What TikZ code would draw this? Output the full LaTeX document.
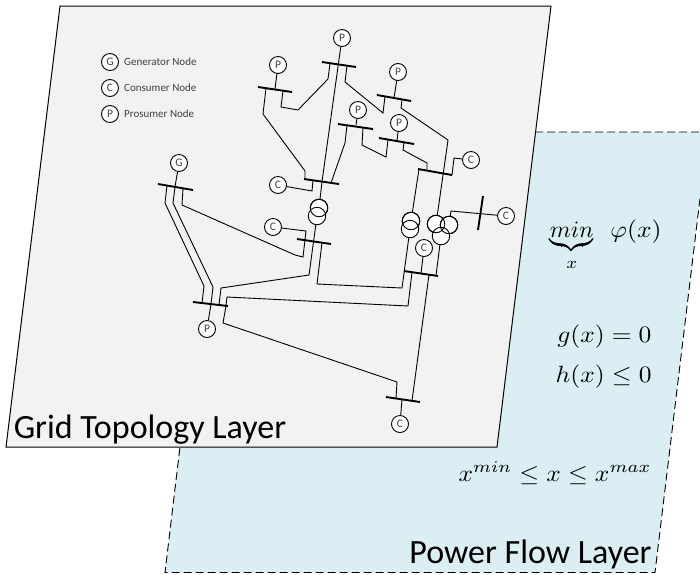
\documentclass[tikz,border=0pt]{standalone}
\usepackage{amsmath}
\usepackage{fontspec}
\setmainfont{Carlito}
\definecolor{gridfill}{HTML}{F2F2F2}
\definecolor{flowfill}{HTML}{DAEEF3}
\definecolor{labelgrey}{HTML}{404040}
\tikzset{
  layerdash/.style={draw=black,line width=0.9pt,dash pattern=on 8pt off 4pt},
  gridlayer/.style={draw=black,line width=1pt,fill=gridfill},
  busbar/.style={draw=black,line width=1.9pt},
  wire/.style={draw=black,line width=0.9pt,line join=miter},
  netnode/.style={circle,draw=black,line width=0.9pt,fill=white,minimum size=17pt,inner sep=0pt,font=\fontsize{11.5}{11.5}\selectfont,text=labelgrey},
  winding/.style={circle,draw=black,line width=0.9pt,minimum size=17.5pt,inner sep=0pt},
  legendtext/.style={anchor=base west,inner sep=0pt,font=\fontsize{11}{13}\selectfont,text=labelgrey},
  layertitle/.style={anchor=base,inner sep=0pt,font=\fontsize{34}{38}\selectfont},
  eq/.style={anchor=base east,inner sep=0pt,xscale=2.55,yscale=2.35,font=\fontsize{10}{12}\selectfont},
}
\begin{document}
\begin{tikzpicture}[x=1pt,y=-1pt]
\useasboundingbox (0,0) rectangle (700,574);
\clip (0,0) rectangle (700,574);
% layers
\path[fill=flowfill] (708,132) -- (655,572.5) -- (165,572.5) -- (215,132) -- cycle;
\path[layerdash] (535,132) -- (708,132) -- (655,572.5) -- (165,572.5) -- (180,447);
\path[gridlayer] (60,6) -- (551,6) -- (497,447) -- (6,447) -- cycle;
% legend
\node[netnode] (lg) at (110,62) {G};
\node[netnode] (lc) at (110,88) {C};
\node[netnode] (lp) at (110,114) {P};
\node[legendtext] (lgt) at (124,65.5) {Generator Node};
\node[legendtext] (lct) at (124,91.5) {Consumer Node};
\node[legendtext] (lpt) at (124,117.5) {Prosumer Node};
% network nodes
\node[netnode] (P1) at (342,38) {P};
\node[netnode] (P2) at (278,65) {P};
\node[netnode] (P3) at (358,110) {P};
\node[netnode] (P4) at (398,72) {P};
\node[netnode] (P5) at (399,123) {P};
\node[netnode] (P6) at (207,329) {P};
\node[netnode] (G1) at (179,163) {G};
\node[netnode] (C1) at (278,185) {C};
\node[netnode] (C2) at (273,227) {C};
\node[netnode] (C3) at (471,160) {C};
\node[netnode] (C4) at (506,216) {C};
\node[netnode] (C5) at (424,248) {C};
\node[netnode] (C6) at (400,424) {C};
% transformers
\node[winding,fill=white] (T1a) at (319,208) {};
\node[winding,fill=white] (T1b) at (317,216) {};
\node[winding] (T1c) at (319,208) {};
\node[winding,fill=white] (T2a) at (411,221) {};
\node[winding,fill=white] (T2b) at (410,229) {};
\node[winding] (T2c) at (411,221) {};
\node[winding,fill=white] (T3a) at (436,224) {};
\node[winding,fill=white] (T3b) at (449,225) {};
\node[winding,fill=white] (T3c) at (441,236) {};
\node[winding] (T3d) at (436,224) {};
\node[winding] (T3e) at (449,225) {};
% bus ends
\coordinate (B1l) at (322,62);  \coordinate (B1r) at (356,67);
\coordinate (B2l) at (258,87);  \coordinate (B2r) at (292,92);
\coordinate (B3l) at (304,179); \coordinate (B3r) at (339,184);
\coordinate (B4l) at (377,95);  \coordinate (B4r) at (411,101);
\coordinate (B5l) at (338,124); \coordinate (B5r) at (373,129);
\coordinate (B6l) at (379,138); \coordinate (B6r) at (414,144);
\coordinate (B7l) at (418,169); \coordinate (B7r) at (452,175);
\coordinate (B8l) at (404,271); \coordinate (B8r) at (438,276);
\coordinate (B9l) at (297,239); \coordinate (B9r) at (331,244);
\coordinate (B10t) at (483,196); \coordinate (B10b) at (478,230);
\coordinate (B11l) at (386,397); \coordinate (B11r) at (420,402);
\coordinate (BGl) at (158,184); \coordinate (BGr) at (193,190);
\coordinate (BPl) at (193,302); \coordinate (BPr) at (228,306);
\foreach \a/\b in {B1l/B1r,B2l/B2r,B3l/B3r,B4l/B4r,B5l/B5r,B6l/B6r,B7l/B7r,B8l/B8r,B9l/B9r,B10t/B10b,B11l/B11r,BGl/BGr,BPl/BPr}
  \draw[busbar] (\a) -- (\b);
% tap points
\coordinate (t1a) at (330,63.3); \coordinate (t1b) at (347,65.7);
\coordinate (t2a) at (266,88.2); \coordinate (t2b) at (283,90.7);
\coordinate (t3a) at (305,179.2); \coordinate (t3b) at (313,180.3); \coordinate (t3c) at (331,182.9); \coordinate (t3d) at (322,181.6);
\coordinate (t4a) at (385,96.4); \coordinate (t4b) at (402,99.4);
\coordinate (t5a) at (347,125.3); \coordinate (t5b) at (363,127.6);
\coordinate (t6a) at (388,139.5); \coordinate (t6b) at (404,142.3);
\coordinate (t7a) at (427,170.6); \coordinate (t7b) at (419,169.2); \coordinate (t7c) at (452,175);
\coordinate (t8a) at (404,271); \coordinate (t8b) at (412,272.2); \coordinate (t8c) at (421,273.5); \coordinate (t8d) at (429,274.7); \coordinate (t8e) at (436,275.7);
\coordinate (t9a) at (306,240.3); \coordinate (t9b) at (322,242.7);
\coordinate (t11a) at (396,398.5); \coordinate (t11b) at (412,400.8); \coordinate (t11c) at (402,399.4);
\coordinate (tGa) at (167,185.5); \coordinate (tGb) at (175,186.9); \coordinate (tGc) at (183,188.3);
\coordinate (tPa) at (202,303); \coordinate (tPb) at (211,304); \coordinate (tPc) at (219,305); \coordinate (tPd) at (226,305.8);
% connectors
\draw[wire] (P1) -- (t3d);
\draw[wire] (t3d) -- (T1a);
\draw[wire] (P2) -- (275,89);
\draw[wire] (t2a) -- (263,114) -- (305,171) -- (t3a);
\draw[wire] (t2b) -- (281,107) -- (298,110) -- (328,79) -- (t1a);
\draw[wire] (t1b) -- (345,82) -- (383,113) -- (t4a);
\draw[wire] (C1) -- (312,191) -- (t3b);
\draw[wire] (P3) -- (356,125);
\draw[wire] (t5a) -- (345,143) -- (t3c);
\draw[wire] (t5b) -- (362,145) -- (386,157) -- (t6a);
\draw[wire] (P5) -- (397,141);
\draw[wire] (t6b) -- (403,150) -- (427,163) -- (t7a);
\draw[wire] (P4) -- (394,98);
\draw[wire] (t4b) -- (401,108) -- (448,140) -- (T3a);
\draw[wire] (t7b) -- (T2a);
\draw[wire] (t7c) -- (454,158) -- (C3);
\draw[wire] (T2b) -- (402,288) -- (317,284) -- (t9b);
\draw[wire] (T3b) -- (451,211) -- (C4);
\draw[wire] (T3c) -- (t8e);
\draw[wire] (C5) -- (t8c);
\draw[wire] (t8b) -- (408,306) -- (227,297) -- (tPd);
\draw[wire] (t8d) -- (t11b);
\draw[wire] (t11c) -- (C6);
\draw[wire] (tPd) -- (223,323) -- (397,382) -- (t11a);
\draw[wire] (G1) -- (tGb);
\draw[wire] (tGa) -- (165,203) -- (204,286) -- (tPa);
\draw[wire] (tGb) -- (173,203) -- (213,287) -- (tPb);
\draw[wire] (tPb) -- (P6);
\draw[wire] (tGc) -- (182,205) -- (295,255) -- (303,257) -- (306,231) -- (C2);
\draw[wire] (T1b) -- (309,275) -- (221,288) -- (tPc);
% text
\node[layertitle] (gt) at (150,438) {Grid Topology Layer};
\node[layertitle] (pt) at (530.5,563) {Power Flow Layer};
\node[eq,xscale=0.94] (e1) at (594,237) {$\underbrace{min}_{x}$};
\node[eq] (e2) at (662,237) {$\varphi(x)$};
\node[eq] (e3) at (652,342) {$g(x)=0$};
\node[eq] (e4) at (652,382) {$h(x)\le 0$};
\node[eq] (e5) at (652,481) {$x^{min}\le x\le x^{max}$};
\end{tikzpicture}
\end{document}
